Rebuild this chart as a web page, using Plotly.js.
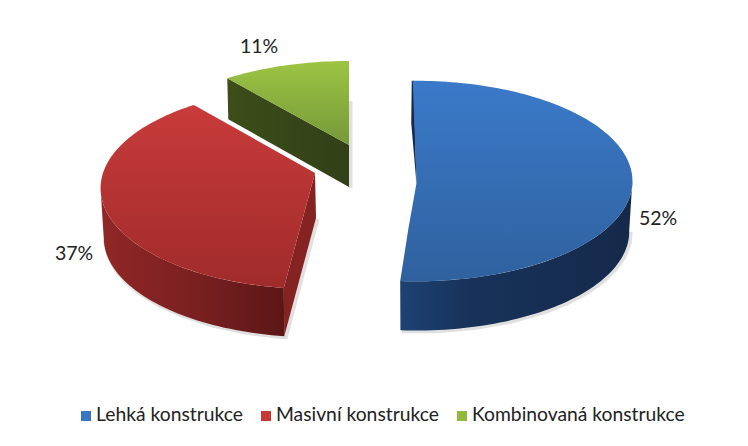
<!DOCTYPE html>
<html>
<head>
<meta charset="utf-8">
<script src="https://cdn.plot.ly/plotly-3.0.1.min.js"></script>
<style>html,body{margin:0;padding:0;background:#fff}</style>
</head>
<body>
<div id="chart" style="width:748px;height:446px"></div>
<script>
// Data
const categories = ['Lehká konstrukce', 'Masivní konstrukce', 'Kombinovaná konstrukce'];
const values = [52, 37, 11];
const swatchColors = ['#3a77c2', '#c73736', '#93b73f'];

// Look of each 3D slice (position on page, ellipse, perspective, shading)
const geometry = [
  {cx:416, cy:166, A:214, B:98, p:0.15, depth:51, nudgeStart:-1, nudgeEnd:-3.6,
   top:['#3b7ac9','#2f619e'], wall:[[0,'#1d4273'],[0.3,'#17325a'],[1,'#15294a']]},
  {cx:315, cy:173, A:212, B:98.6, p:0.15, depth:50, nudgeStart:0, nudgeEnd:0, faceDepth:45,
   top:['#c83b3a','#a02b2b'], wall:[[0,'#902726'],[0.5,'#7b2020'],[1,'#5c1616']]},
  {cx:349, cy:145, A:213, B:96.6, p:0.15, depth:42, nudgeStart:0, nudgeEnd:0,
   top:['#9dc443','#75993a'], wall:[[0,'#3c4e19'],[1,'#323f18']]}
];
const labelPos = [[658,220],[74,255],[259,48]];
const legendMarkerX = [86,266,462];
const legendY = 416;

const total = values.reduce((a,b)=>a+b,0);
const rad = d => d*Math.PI/180;
function pt(g, deg, scale, dy){
  const s = scale||1, u = Math.sin(rad(deg)), v = -Math.cos(rad(deg)), w = 1-g.p*v;
  return [g.cx + s*g.A*u/w, g.cy + (dy||0) + s*g.B*v/w];
}
function arc(g, a, b, scale, dy){
  const out = [], n = Math.max(8, Math.ceil(Math.abs(b-a)/1.5));
  for(let i=0;i<=n;i++) out.push(pt(g, a+(b-a)*i/n, scale, dy));
  return out;
}
function poly(points, o){
  const tr = {x:points.map(p=>p[0]).concat(points[0][0]), y:points.map(p=>p[1]).concat(points[0][1]),
    type:'scatter', mode:'none', fill:'toself', hoverinfo:'skip', showlegend:false};
  return Object.assign(tr, o);
}
// the y axis runs downward on the page, so the top colour is the gradient's end
const vGrad = c => ({type:'vertical', colorscale:[[0,c[1]],[1,c[0]]]});
const hGrad = c => ({type:'horizontal', colorscale:c});
function shadow(points){
  return {x:points.map(p=>p[0]+1.5), y:points.map(p=>p[1]+1), type:'scatter', mode:'lines',
    line:{color:'rgba(60,60,60,0.16)', width:4}, hoverinfo:'skip', showlegend:false};
}

// slice angles from the data
let acc = 0;
const spans = values.map((v,i)=>{
  const a = acc/total*360 + geometry[i].nudgeStart;
  acc += v;
  return [a, acc/total*360 + geometry[i].nudgeEnd];
});

const traces = [];

// green slice
{
  const g = geometry[2], [a,b] = spans[2];
  const s = pt(g, a), apex = [g.cx, g.cy], face = [s, apex, [apex[0],apex[1]+g.depth], [s[0]+1,s[1]+g.depth-1]];
  traces.push(shadow([[g.cx,g.cy-45],[g.cx,g.cy+g.depth]]));
  traces.push(poly(face, {fillgradient:hGrad(g.wall)}));
  traces.push(poly(arc(g,a,b).concat([apex]), {fillgradient:vGrad(g.top)}));
}
// red slice
{
  const g = geometry[1], [a,b] = spans[1];
  const apex = [g.cx, g.cy], sil = 261;
  const endPt = pt(g, a), botPt = pt(g, a, 0.985, g.depth);
  const face = [apex, [apex[0]+1,apex[1]+g.faceDepth], botPt, endPt];
  traces.push(shadow([[apex[0]+1,apex[1]+g.faceDepth], botPt].concat(arc(g,a,sil,0.985,g.depth))));
  const wall = arc(g,a,sil).concat(arc(g,sil,a,0.985,g.depth));
  traces.push(poly(face, {fillcolor:'#852222'}));
  traces.push(poly(wall, {fillgradient:hGrad(g.wall)}));
  traces.push(poly(arc(g,a,b).concat([apex]), {fillgradient:vGrad(g.top)}));
}
// blue slice
{
  const g = geometry[0], [a,b] = spans[0];
  const sil = 98;
  const s = pt(g, a), e = pt(g, b);
  // inner cut edge bends at the visible hub of the slice
  const hub = [g.cx+0.5, g.cy+17], mid = [g.cx-7.5, e[1]-53];
  traces.push(shadow(arc(g,b,sil,0.985,g.depth)));
  traces.push(shadow([[s[0]-1,s[1]+40],hub]));
  traces.push(poly([[s[0]-1,s[1]],[s[0]-1.5,s[1]+42],hub,[s[0]+2,s[1]+40],[s[0]+1,s[1]]], {fillcolor:'#15294a'}));
  const wall = arc(g,sil,b).concat(arc(g,b,sil,0.985,g.depth));
  traces.push(poly(wall, {fillgradient:hGrad(g.wall)}));
  traces.push(poly(arc(g,a,b).concat([mid, hub]), {fillgradient:vGrad(g.top)}));
}
// percentage labels
traces.push({type:'scatter', mode:'text', x:labelPos.map(p=>p[0]), y:labelPos.map(p=>p[1]),
  text:values.map(v=>v+'%'), textposition:'middle center',
  textfont:{family:'Lato, Carlito, sans-serif', size:19.5, color:'#222222'}, hoverinfo:'skip', showlegend:false});
// legend row
categories.forEach((c,i)=>{
  traces.push({type:'scatter', mode:'markers', name:c, x:[legendMarkerX[i]], y:[legendY],
    marker:{symbol:'square', size:10, color:swatchColors[i]}, hoverinfo:'skip', showlegend:false});
});
traces.push({type:'scatter', mode:'text', x:legendMarkerX.map(x=>x+10), y:categories.map(()=>legendY),
  text:categories, textposition:'middle right',
  textfont:{family:'Lato, Carlito, sans-serif', size:19.3, color:'#222222'}, hoverinfo:'skip', showlegend:false});

Plotly.newPlot('chart', traces, {
  width:748, height:446, margin:{l:0,r:0,t:0,b:0}, showlegend:false,
  paper_bgcolor:'#ffffff', plot_bgcolor:'#ffffff',
  xaxis:{range:[0,748], visible:false, fixedrange:true},
  yaxis:{range:[446,0], visible:false, fixedrange:true}
}, {displayModeBar:false, staticPlot:true});
</script>
</body>
</html>
